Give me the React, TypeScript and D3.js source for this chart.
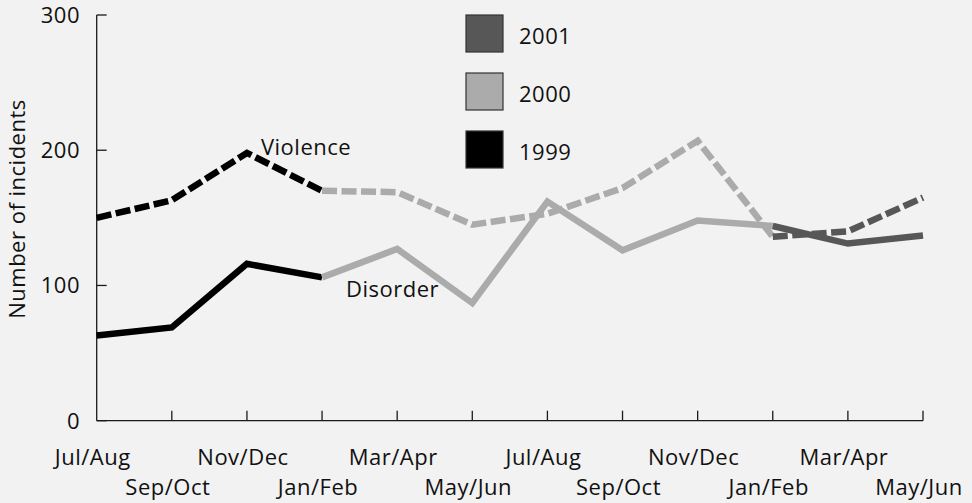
import * as d3 from "d3";
import { useRef, useEffect } from "react";

// bimonthly periods, Jul/Aug 1999 .. May/Jun 2001
const periods = ["Jul/Aug", "Sep/Oct", "Nov/Dec", "Jan/Feb", "Mar/Apr", "May/Jun", "Jul/Aug", "Sep/Oct", "Nov/Dec", "Jan/Feb", "Mar/Apr", "May/Jun"];
const yTicks = [0, 100, 200, 300];

const violence1999 = [150, 163, 198, 170, null, null, null, null, null, null, null, null];
const violence2000 = [null, null, null, 170, 169, 145, 153, 172, 207, 136, null, null];
const violence2001 = [null, null, null, null, null, null, null, null, null, 136, 140, 165];
const disorder1999 = [63, 69, 116, 106, null, null, null, null, null, null, null, null];
const disorder2000 = [null, null, null, 106, 127, 87, 162, 126, 148, 144, null, null];
const disorder2001 = [null, null, null, null, null, null, null, null, null, 144, 131, 137];

const years = ["2001", "2000", "1999"];
const yearColors = ["#575757", "#ababab", "#000000"];

const W = 972;
const H = 503;
const FONT = "'Open Sans', sans-serif";

const App = () => {
    const svgRef = useRef(null);

    useEffect(() => {
        if (!svgRef.current) return;
        const svg = d3.select(svgRef.current);
        svg.selectAll("*").remove();

        svg.append("rect").attr("width", W).attr("height", H).attr("fill", "#f2f2f2");

        const x = d3.scalePoint<number>()
            .domain(periods.map((_, i) => i))
            .range([96.7, 923]);
        const y = d3.scaleLinear().domain([0, 300]).range([420.7, 15]);

        // axes
        const axis = svg.append("g").attr("stroke", "#1a1a1a").attr("stroke-width", 1.3);
        axis.append("line").attr("x1", x(0)!).attr("x2", x(0)!).attr("y1", y(300)).attr("y2", y(0));
        axis.append("line").attr("x1", x(0)!).attr("x2", x(11)!).attr("y1", y(0)).attr("y2", y(0));
        yTicks.forEach((t) => {
            axis.append("line").attr("x1", x(0)!).attr("x2", x(0)! + 10).attr("y1", y(t)).attr("y2", y(t));
        });
        periods.forEach((_, i) => {
            if (i == 0) return;
            axis.append("line").attr("x1", x(i)!).attr("x2", x(i)!).attr("y1", y(0)).attr("y2", y(0) - 10);
        });

        const txt = svg.append("g").attr("font-family", FONT).attr("font-size", 22)
            .attr("letter-spacing", 0.5).attr("fill", "#111");

        yTicks.forEach((t) => {
            txt.append("text").attr("x", 80).attr("y", y(t)).attr("dy", "0.36em")
                .attr("text-anchor", "end").text(t);
        });
        periods.forEach((p, i) => {
            txt.append("text").attr("x", x(i)! - 4).attr("y", i % 2 == 0 ? 465 : 495)
                .attr("text-anchor", "middle").text(p);
        });
        txt.append("text").attr("transform", "translate(25,209) rotate(-90)")
            .attr("text-anchor", "middle").text("Number of incidents");

        // series lines
        const line = d3.line<number | null>()
            .defined((d) => d != null)
            .x((_, i) => x(i)!)
            .y((d) => y(d as number));

        const series = [
            { values: disorder1999, color: yearColors[2], dashed: false },
            { values: violence1999, color: yearColors[2], dashed: true },
            { values: disorder2000, color: yearColors[1], dashed: false },
            { values: violence2000, color: yearColors[1], dashed: true },
            { values: disorder2001, color: yearColors[0], dashed: false },
            { values: violence2001, color: yearColors[0], dashed: true },
        ];
        series.forEach((s) => {
            svg.append("path")
                .attr("d", line(s.values))
                .attr("fill", "none")
                .attr("stroke", s.color)
                .attr("stroke-width", 6.5)
                .attr("stroke-linejoin", "miter")
                .attr("stroke-dasharray", s.dashed ? "15,4.5" : null);
        });

        // series labels
        txt.append("text").attr("x", x(2)! + 14).attr("y", 155).text("Violence");
        txt.append("text").attr("x", 346).attr("y", 297).text("Disorder");

        // legend
        const legend = svg.append("g");
        years.forEach((yr, i) => {
            const ly = 15 + i * 58;
            legend.append("rect").attr("x", 466).attr("y", ly).attr("width", 37).attr("height", 37)
                .attr("fill", yearColors[i]).attr("stroke", "#333").attr("stroke-width", 1.2);
            legend.append("text").attr("x", 519).attr("y", ly + 29)
                .attr("font-family", FONT).attr("font-size", 22).attr("letter-spacing", 0.5)
                .attr("fill", "#111").text(yr);
        });

        return () => {
            svg.selectAll("*").remove();
        };
    }, []);

    return (
        <svg ref={svgRef} width={W} height={H}
            style={{ position: "absolute", left: 0, top: 0, display: "block" }}></svg>
    );
};

export default App;
